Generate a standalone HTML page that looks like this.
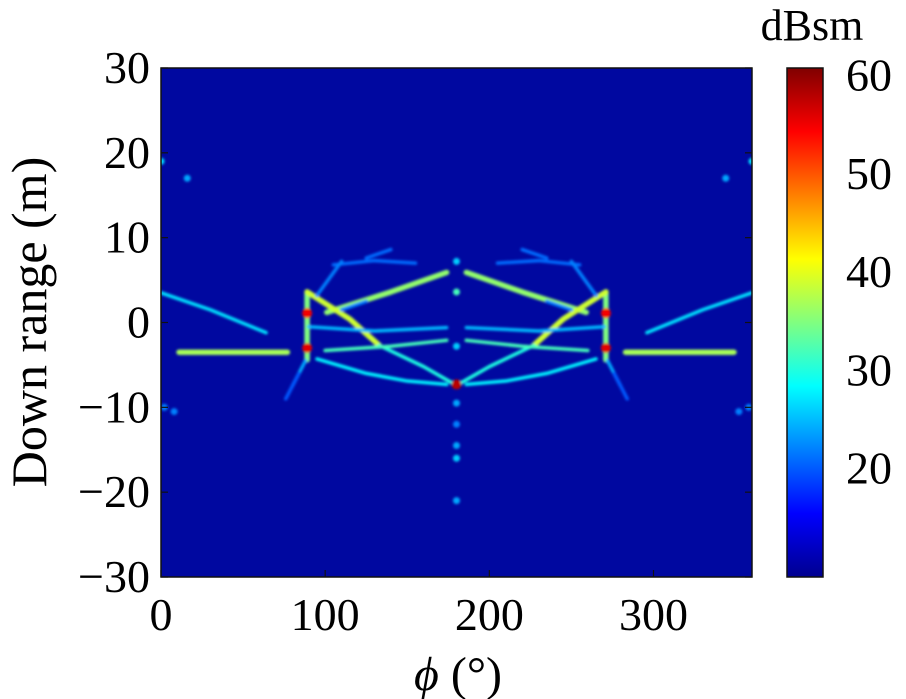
<!DOCTYPE html>
<html><head><meta charset="utf-8"><style>
html,body{margin:0;padding:0;background:#fff;}
svg{display:block;font-family:"Liberation Serif",serif;}
</style></head><body>
<svg id="chart" width="906" height="699" viewBox="0 0 906 699" xmlns="http://www.w3.org/2000/svg">
<defs>
<filter id="soft" x="-10%" y="-10%" width="120%" height="120%"><feGaussianBlur stdDeviation="1.2"/></filter>
<linearGradient id="jet" x1="0" y1="1" x2="0" y2="0">
<stop offset="0" stop-color="#00008f"/><stop offset="0.125" stop-color="#0000ff"/>
<stop offset="0.375" stop-color="#00ffff"/><stop offset="0.625" stop-color="#ffff00"/>
<stop offset="0.875" stop-color="#ff0000"/><stop offset="1" stop-color="#800000"/>
</linearGradient>
<clipPath id="plotclip"><rect x="161" y="68" width="591" height="509"/></clipPath>
</defs>
<rect x="161" y="68" width="591" height="509" fill="rgb(0,8,160)"/>
<g id="marks" clip-path="url(#plotclip)" filter="url(#soft)"></g>
<rect x="161" y="68" width="591" height="509" fill="none" stroke="#111" stroke-width="1.5"/>
<g id="axes"></g>
<rect x="787" y="68" width="36" height="509" fill="url(#jet)" stroke="#111" stroke-width="1.5"/>
<text x="812" y="40" font-size="44" text-anchor="middle">dBsm</text>
<text transform="translate(46,322) rotate(-90)" font-size="50" text-anchor="middle">Down range (m)</text>
<text x="458" y="690" font-size="48" text-anchor="middle"><tspan font-style="italic">ϕ</tspan> (°)</text>
</svg>
<script>
// data (left half, mirrored about phi=180)
const streakPhi = [
 [11,77],[0,30,64],[89,89],[101,140,174],[89,115,133],[133,160,178],
 [100,140,174],[95,125,150,174],[90,130,174],[105,130,155],[95,110],[125,140],[88,80],[84,76],[110,125]
];
const streakRange = [
 [-3.5,-3.5],[3.5,1.5,-1.2],[3.6,-4.4],[1.2,3.6,5.9],[3.6,0.4,-2.7],[-2.7,-5.2,-7.2],
 [-3.3,-2.8,-2.1],[-4.3,-6.0,-6.9,-7.3],[-0.5,-1.0,-0.6],[6.8,7.3,7.0],[3.2,7.2],[7.6,8.6],[-4.5,-7.5],[-6,-9],[1.5,2.5]
];
const streakDb = [37,27,35,36,39,30,32,28,25,21,22,21,24,20,22];
const spotPhi = [89,89,180,180,180,180,180,180,180,180,180,0,16,2,8];
const spotRange = [1.1,-3.0,7.2,3.6,-2.8,-7.3,-9.5,-12,-14.5,-16,-21,19,17,-10,-10.5];
const spotDb = [55,56,26,32,26,58,24,22,24,26,24,27,24,22,22];
const yTicks = [30,20,10,0,-10,-20,-30];
const xTicks = [0,100,200,300];
const cbTicks = [20,30,40,50,60];

const X0=161,X1=752,Y0=68,Y1=577;
const xs = p => X0 + p/360*(X1-X0);
const ys = r => Y0 + (30-r)/60*(Y1-Y0);
const cbY = v => 468.5 - (v-20)*9.82;
function jet(v){
  let t = (v-9)/(61-9); t=Math.max(0,Math.min(1,t));
  const f=(a)=>Math.max(0,Math.min(1,1.5-Math.abs(4*t-a)));
  return `rgb(${Math.round(255*f(3))},${Math.round(255*f(2))},${Math.round(255*f(1))})`;
}
const NS='http://www.w3.org/2000/svg';
const marks=document.getElementById('marks');
function mk(tag,attrs,parent){const e=document.createElementNS(NS,tag);for(const k in attrs)e.setAttribute(k,attrs[k]);parent.appendChild(e);return e;}
for(let i=0;i<streakPhi.length;i++){
  for(const mir of [false,true]){
    const pts=streakPhi[i].map((p,j)=>`${xs(mir?360-p:p)},${ys(streakRange[i][j])}`).join(' ');
    const el=mk('polyline',{points:pts,fill:'none',stroke:jet(streakDb[i]),'stroke-width':streakDb[i]>34?5.5:3.5,'stroke-linecap':'round','stroke-linejoin':'round'},marks);
    
    
  }
}
for(let i=0;i<spotPhi.length;i++){
  const mirrors = spotPhi[i]===180?[false]:[false,true];
  for(const mir of mirrors){
    const el=mk('circle',{cx:xs(mir?360-spotPhi[i]:spotPhi[i]),cy:ys(spotRange[i]),r:spotDb[i]>50?5:3.5,fill:jet(spotDb[i])},marks);
    
    
  }
}
const axes=document.getElementById('axes');
yTicks.forEach(v=>{
  const y=ys(v);
  const t=mk('line',{x1:X0,x2:X0+7,y1:y,y2:y,stroke:'#111','stroke-width':1.2},axes);
  
  
  const t2=mk('line',{x1:X1-7,x2:X1,y1:y,y2:y,stroke:'#111','stroke-width':1.2},axes);
  
  
  const l=mk('text',{x:150,y:y+15,'font-size':46,'text-anchor':'end'},axes);
  l.textContent=v<0?'\u2212'+(-v):String(v);
  
  
});
xTicks.forEach(v=>{
  const x=xs(v);
  const t=mk('line',{x1:x,x2:x,y1:Y1,y2:Y1-7,stroke:'#111','stroke-width':1.2},axes);
  
  
  const l=mk('text',{x:x,y:630,'font-size':46,'text-anchor':'middle'},axes);
  l.textContent=String(v);
  
  
});
cbTicks.forEach(v=>{
  const y=cbY(v);
  const t=mk('line',{x1:787,x2:792,y1:y,y2:y,stroke:'#111','stroke-width':1.2},axes);
  
  
  const l=mk('text',{x:846,y:y+15,'font-size':46},axes);
  l.textContent=String(v);
  
  
});
</script>
</body></html>
